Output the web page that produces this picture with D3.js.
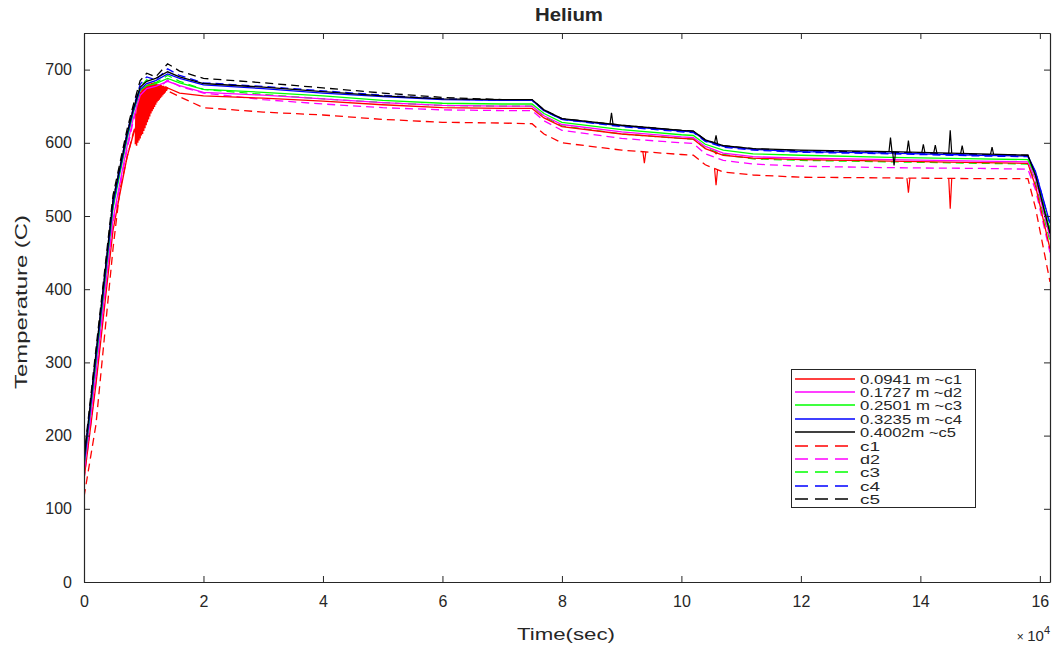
<!DOCTYPE html>
<html>
<head>
<meta charset="utf-8">
<script src="https://cdn.jsdelivr.net/npm/d3@7"></script>
<style>
  body { margin: 0; background: #fff; }
  text { font-family: "Liberation Sans", Arial, sans-serif; fill: #262626; }
</style>
</head>
<body>
<div class="canvas"></div>
<script>
// time grid in seconds (shared by all series)
const times = [0, 2000, 4850, 6000, 7200, 8200, 9400, 10500, 12000, 14000, 16000, 20000,
  30000, 40000, 50000, 60000, 70000, 75000, 77000, 80000, 90000, 100000, 102000, 104000,
  107000, 112000, 120000, 135000, 150000, 158000, 159300, 161700]

// solid lines (measured)
const s_c1 = [140, 270, 480, 530, 580, 610, 640, 650, 660, 675, 668, 664, 661, 657, 652, 648, 647, 647, 634, 622, 612, 606, 605, 592, 583, 579, 577, 575, 573, 572, 540, 455]
const s_d2 = [150, 285, 495, 545, 595, 632, 665, 674, 677, 684, 678, 669, 665, 660, 655, 651, 650, 650, 637, 625, 615, 608, 607, 595, 586, 581, 579, 577, 575, 574, 550, 470]
const s_c3 = [158, 300, 510, 558, 605, 640, 672, 678, 681, 688, 682, 673, 669, 664, 658, 654, 653, 653, 640, 628, 618, 611, 610, 598, 590, 585, 583, 580, 578, 577, 555, 480]
const s_c4 = [160, 305, 515, 562, 608, 642, 673, 681, 685, 694, 688, 679, 674, 668, 663, 659, 658, 658, 644, 632, 623, 616, 615, 603, 595, 591, 588, 586, 583, 582, 560, 490]
const s_c5 = [166, 312, 521, 566, 612, 645, 676, 684, 688, 697, 690, 681, 676, 670, 664, 660, 659, 659, 645, 633, 624, 617, 616, 604, 596, 592, 590, 588, 585, 583, 555, 476]

// dashed lines (model)
const d_c1 = [116, 215, 455, 535, 580, 612, 645, 658, 662, 671, 663, 648, 642, 638, 632, 628, 627, 626, 612, 600, 590, 584, 583, 570, 560, 556, 553, 552, 551, 551, 510, 410]
const d_d2 = [140, 275, 490, 540, 590, 628, 662, 672, 670, 686, 677, 668, 659, 653, 648, 645, 644, 644, 630, 617, 606, 600, 599, 585, 576, 571, 568, 566, 565, 564, 535, 450]
const d_c3 = [155, 300, 512, 560, 607, 642, 676, 686, 682, 692, 684, 673, 666, 660, 655, 651, 650, 650, 636, 623, 612, 606, 605, 593, 584, 578, 576, 574, 572, 571, 545, 465]
const d_c4 = [165, 310, 522, 567, 613, 646, 680, 690, 686, 701, 692, 682, 677, 671, 665, 660, 658, 658, 644, 632, 622, 615, 614, 602, 594, 590, 587, 585, 582, 581, 560, 488]
const d_c5 = [170, 318, 528, 572, 618, 650, 685, 695, 690, 708, 698, 688, 682, 675, 668, 662, 659, 659, 645, 633, 624, 617, 616, 604, 596, 592, 589, 587, 584, 583, 555, 480]

// red thermocouple noise band near the peak [t, T]
const redNoise = [[8600, 598], [8700, 640], [8800, 596], [8900, 652], [9000, 600], [9100, 660],
  [9200, 603], [9300, 666], [9400, 606], [9500, 670], [9600, 610], [9700, 673], [9800, 612],
  [9900, 675], [10000, 616], [10100, 677], [10200, 620], [10300, 678], [10400, 624], [10500, 679],
  [10600, 628], [10700, 680], [10800, 632], [10900, 681], [11000, 636], [11100, 681], [11200, 640],
  [11300, 682], [11400, 643], [11500, 682], [11600, 646], [11700, 682], [11800, 649], [11900, 681],
  [12000, 652], [12100, 681], [12200, 655], [12300, 680], [12400, 657], [12500, 680], [12600, 659],
  [12700, 679], [12800, 661], [12900, 679], [13000, 663], [13100, 678], [13200, 665], [13300, 678],
  [13400, 667], [13500, 677], [13600, 669], [13700, 677], [13800, 671], [13900, 676], [14000, 673]]

// spikes [t, T]
const spikes_s_c5 = [[88300, 641], [105800, 610], [135000, 607], [135600, 569], [138000, 603],
  [140500, 598], [142500, 597], [145000, 617], [147000, 596], [152000, 594]]
const spikes_d_c1 = [[93800, 572], [105800, 542], [138000, 532], [145000, 510]]
const spikes_s_c1 = [[105800, 585]]

const legendLabels = ["0.0941 m ~c1", "0.1727 m ~d2", "0.2501 m ~c3", "0.3235 m ~c4", "0.4002m ~c5",
  "c1", "d2", "c3", "c4", "c5"]
const colors = ["#ff0000", "#ff00ff", "#00ff00", "#0000ff", "#000000"]

const xTicks = [0, 2, 4, 6, 8, 10, 12, 14, 16]
const yTicks = [0, 100, 200, 300, 400, 500, 600, 700]

const W = 1056, H = 648
const m = { left: 84, right: 6, top: 33, bottom: 66 }
const iw = W - m.left - m.right, ih = H - m.top - m.bottom

const svg = d3.select(".canvas").append("svg").attr("width", W).attr("height", H)

const x = d3.scaleLinear().domain([0, 161700]).range([m.left, m.left + iw])
const y = d3.scaleLinear().domain([0, 750]).range([m.top + ih, m.top])

const line = d3.line().x(d => x(d[0])).y(d => y(d[1]))
svg.append("clipPath").attr("id", "clip").append("rect")
  .attr("x", m.left).attr("y", m.top).attr("width", iw).attr("height", ih)
const g = svg.append("g").attr("clip-path", "url(#clip)")

const solid = [s_c1, s_d2, s_c3, s_c4, s_c5]
const dashed = [d_c1, d_d2, d_c3, d_c4, d_c5]
const pairs = vals => times.map((t, i) => [t, vals[i]])
const interp = (vals, t) => {
  const i = d3.bisectRight(times, t) - 1
  const f = (t - times[i]) / (times[i + 1] - times[i])
  return vals[i] + f * (vals[i + 1] - vals[i])
}
const spikePath = (vals, sp) => sp.map(s => {
  const b0 = interp(vals, s[0] - 250), b1 = interp(vals, s[0] + 250)
  return line([[s[0] - 250, b0], [s[0], s[1]], [s[0] + 250, b1]])
}).join("")

// dashed (model) lines first, then measured on top
dashed.forEach((vals, i) => {
  g.append("path").attr("d", line(pairs(vals)))
    .attr("fill", "none").attr("stroke", colors[i]).attr("stroke-width", 1.3)
    .attr("stroke-dasharray", "8,5")
})
g.append("path").attr("d", line(redNoise))
  .attr("fill", "none").attr("stroke", colors[0]).attr("stroke-width", 1.5)
solid.forEach((vals, i) => {
  g.append("path").attr("d", line(pairs(vals)))
    .attr("fill", "none").attr("stroke", colors[i]).attr("stroke-width", 1.3)
})
g.append("path").attr("d", spikePath(s_c5, spikes_s_c5))
  .attr("fill", "none").attr("stroke", "#000").attr("stroke-width", 1.2)
g.append("path").attr("d", spikePath(d_c1, spikes_d_c1))
  .attr("fill", "none").attr("stroke", "#ff0000").attr("stroke-width", 1.2)
g.append("path").attr("d", spikePath(s_c1, spikes_s_c1))
  .attr("fill", "none").attr("stroke", "#ff0000").attr("stroke-width", 1.2)

// axes (MATLAB style box with inward ticks)
const axColor = "#262626"
const tl = 6
svg.append("g").attr("transform", `translate(0,${m.top + ih})`)
  .call(d3.axisBottom(x).tickValues(xTicks.map(v => v * 1e4)).tickFormat(d => d / 1e4)
    .tickSizeInner(-tl).tickSizeOuter(0).tickPadding(14))
  .call(a => a.selectAll("text").attr("font-size", 16).attr("fill", axColor))
svg.append("g").attr("transform", `translate(0,${m.top})`)
  .call(d3.axisTop(x).tickValues(xTicks.map(v => v * 1e4)).tickFormat("")
    .tickSizeInner(-tl).tickSizeOuter(0))
svg.append("g").attr("transform", `translate(${m.left},0)`)
  .call(d3.axisLeft(y).tickValues(yTicks).tickSizeInner(-tl).tickSizeOuter(0).tickPadding(12))
  .call(a => a.selectAll("text").attr("font-size", 16).attr("fill", axColor))
svg.append("g").attr("transform", `translate(${m.left + iw},0)`)
  .call(d3.axisRight(y).tickValues(yTicks).tickFormat("").tickSizeInner(-tl).tickSizeOuter(0))
svg.selectAll(".domain, .tick line").attr("stroke", axColor)
svg.selectAll(".domain").attr("stroke-width", 1.2)

// labels
svg.append("text").attr("x", m.left + iw / 2 + 2).attr("y", 21).attr("text-anchor", "middle")
  .attr("font-size", 18).attr("font-weight", "bold")
  .attr("textLength", 68).attr("lengthAdjust", "spacingAndGlyphs").text("Helium")
svg.append("text").attr("x", 566).attr("y", 640).attr("text-anchor", "middle")
  .attr("font-size", 17).attr("textLength", 98).attr("lengthAdjust", "spacingAndGlyphs")
  .text("Time(sec)")
svg.append("text").attr("transform", `translate(27,302) rotate(-90)`)
  .attr("text-anchor", "middle").attr("font-size", 16)
  .attr("textLength", 174).attr("lengthAdjust", "spacingAndGlyphs").text("Temperature (C)")
const e = svg.append("text").attr("x", 1050).attr("y", 641).attr("text-anchor", "end").attr("font-size", 15)
e.append("tspan").attr("font-size", 12).text("× ")
e.append("tspan").text("10")
e.append("tspan").attr("font-size", 11).attr("dy", -7).text("4")

// legend
const lg = svg.append("g").attr("transform", "translate(791,369)")
lg.append("rect").attr("x", 0.5).attr("y", 0.5).attr("width", 184).attr("height", 138)
  .attr("fill", "#fff").attr("stroke", axColor).attr("stroke-width", 1)
legendLabels.forEach((lab, i) => {
  const yy = Math.round(9.5 + i * 13.4)
  lg.append("line").attr("x1", 4).attr("x2", 64).attr("y1", yy).attr("y2", yy)
    .attr("stroke", colors[i % 5]).attr("stroke-width", 1.6)
    .attr("stroke-dasharray", i < 5 ? null : "13,7")
  lg.append("text").attr("x", 69).attr("y", yy + 4.5).attr("font-size", 12)
    .attr("textLength", i < 5 ? (i === 4 ? 96 : 102) : 20)
    .attr("lengthAdjust", "spacingAndGlyphs").text(lab)
})
</script>
</body>
</html>
